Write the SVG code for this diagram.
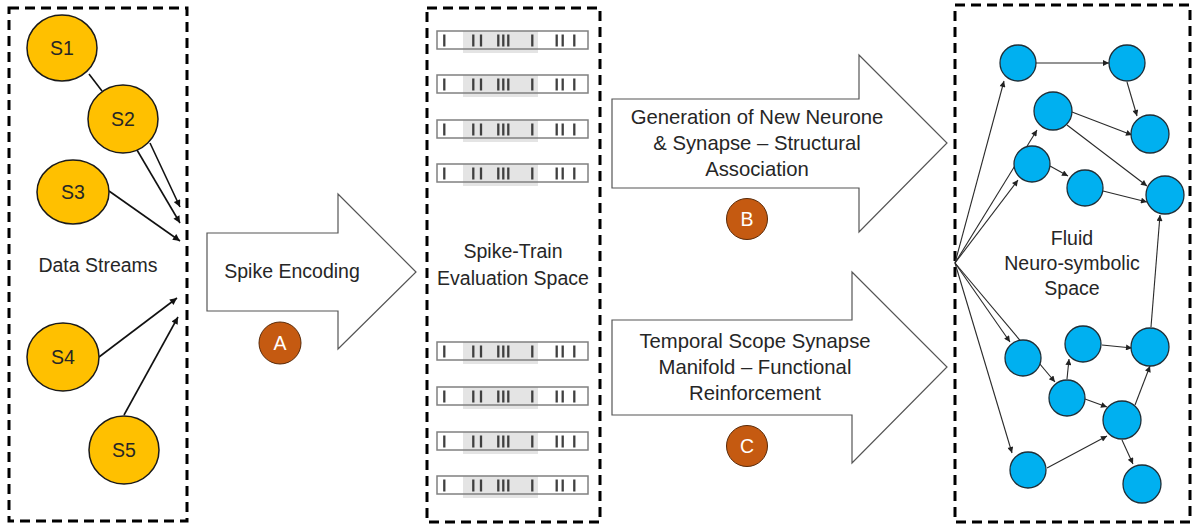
<svg xmlns="http://www.w3.org/2000/svg" xmlns:xlink="http://www.w3.org/1999/xlink" width="1196" height="527" viewBox="0 0 1196 527">
<style>
.frame{fill:none;stroke:#000;stroke-width:3;stroke-dasharray:10 6}
.t{font-family:"Liberation Sans",Arial,sans-serif;font-size:19.5px;fill:#262626;text-anchor:middle}
.tb{font-size:20.3px}
.tw{font-family:"Liberation Sans",Arial,sans-serif;font-size:19.5px;fill:#fff;text-anchor:middle}
.yel{fill:#FFC000;stroke:#1a1a1a;stroke-width:1.5}
.blue{fill:#00B0F0;stroke:#1f2f38;stroke-width:1.3}
.badge{fill:#C55A11;stroke:#5a2a08;stroke-width:1}
.big{fill:#fff;stroke:#555;stroke-width:1.2}
.la{stroke:#111;stroke-width:1.6;fill:none}
.ra{stroke:#2a2a2a;stroke-width:1.1;fill:none}
.spk{stroke:#404040;stroke-width:2.3}
</style>
<defs>
<marker id="ahL" viewBox="0 0 10 10" refX="10" refY="5" markerWidth="10" markerHeight="7" markerUnits="userSpaceOnUse" orient="auto"><path d="M0,0 L10,5 L0,10 z" fill="#111"/></marker>
<marker id="ahR" viewBox="0 0 10 10" refX="10" refY="5" markerWidth="9" markerHeight="6" markerUnits="userSpaceOnUse" orient="auto"><path d="M0,0 L10,5 L0,10 z" fill="#222"/></marker>
<g id="train">
<rect x="26" y="0" width="75" height="22" fill="#e4e4e4"/>
<rect x="0" y="0" width="151" height="18" fill="none" stroke="#808080" stroke-width="1.5"/>
<path class="spk" d="M7.3,3.5V15.5M36.3,3.5V15.5M44,3.5V15.5M61.3,3.5V15.5M66.3,3.5V15.5M71.3,3.5V15.5M95.3,3.5V15.5M119.7,3.5V15.5M125.7,3.5V15.5M137.3,3.5V15.5"/>
</g>
</defs>
<rect width="1196" height="527" fill="#fff"/>

<!-- Panel frames -->
<rect class="frame" x="9" y="8" width="178" height="513"/>
<rect class="frame" x="427" y="8" width="173" height="514"/>
<rect class="frame" x="955" y="5" width="235" height="517"/>

<!-- Connectors -->
<g id="connectors">
<line class="la" x1="89" y1="74" x2="102" y2="91"/>
<line class="la" x1="150" y1="143" x2="180" y2="207" marker-end="url(#ahL)"/>
<line class="la" x1="137" y1="150" x2="180" y2="223" marker-end="url(#ahL)"/>
<line class="la" x1="109" y1="191" x2="180" y2="241" marker-end="url(#ahL)"/>
<line class="la" x1="99" y1="357" x2="177" y2="298" marker-end="url(#ahL)"/>
<line class="la" x1="124" y1="415" x2="178" y2="317" marker-end="url(#ahL)"/>

<line class="ra" x1="955" y1="263" x2="1004" y2="81" marker-end="url(#ahR)"/>
<line class="ra" x1="955" y1="263" x2="1037" y2="130" marker-end="url(#ahR)"/>
<line class="ra" x1="955" y1="263" x2="1018" y2="180" marker-end="url(#ahR)"/>
<line class="ra" x1="955" y1="263" x2="1010" y2="342" marker-end="url(#ahR)"/>
<line class="ra" x1="955" y1="263" x2="1055" y2="382" marker-end="url(#ahR)"/>
<line class="ra" x1="955" y1="263" x2="1012" y2="453" marker-end="url(#ahR)"/>
<line class="ra" x1="1036" y1="63" x2="1109" y2="63" marker-end="url(#ahR)"/>
<line class="ra" x1="1127" y1="82" x2="1137" y2="116" marker-end="url(#ahR)"/>
<line class="ra" x1="1072" y1="112" x2="1132" y2="135" marker-end="url(#ahR)"/>
<line class="ra" x1="1067" y1="125" x2="1147" y2="186" marker-end="url(#ahR)"/>
<line class="ra" x1="1050" y1="166" x2="1068" y2="176" marker-end="url(#ahR)"/>
<line class="ra" x1="1103" y1="191" x2="1147" y2="202" marker-end="url(#ahR)"/>
<line class="ra" x1="1151" y1="327" x2="1160" y2="215" marker-end="url(#ahR)"/>
<line class="ra" x1="1067" y1="379" x2="1069" y2="359" marker-end="url(#ahR)"/>
<line class="ra" x1="1102" y1="345" x2="1132" y2="348" marker-end="url(#ahR)"/>
<line class="ra" x1="1085" y1="399" x2="1107" y2="407" marker-end="url(#ahR)"/>
<line class="ra" x1="1135" y1="405" x2="1150" y2="366" marker-end="url(#ahR)"/>
<line class="ra" x1="1047" y1="468" x2="1107" y2="436" marker-end="url(#ahR)"/>
<line class="ra" x1="1122" y1="440" x2="1133" y2="464" marker-end="url(#ahR)"/>
</g>

<!-- Data stream nodes -->
<g id="S1"><ellipse class="yel" cx="62" cy="48" rx="35" ry="33"/><text class="t" x="62" y="55">S1</text></g>
<g id="S2"><ellipse class="yel" cx="123" cy="119" rx="35" ry="34"/><text class="t" x="123" y="126">S2</text></g>
<g id="S3"><ellipse class="yel" cx="73" cy="192" rx="36" ry="32"/><text class="t" x="73" y="199">S3</text></g>
<g id="S4"><ellipse class="yel" cx="63" cy="357" rx="36" ry="34"/><text class="t" x="63" y="364">S4</text></g>
<g id="S5"><ellipse class="yel" cx="124" cy="450" rx="35" ry="34"/><text class="t" x="124" y="457">S5</text></g>
<g id="data-streams-label"><text class="t" x="98" y="272">Data Streams</text></g>

<!-- Spike Encoding arrow -->
<g id="spike-encoding">
<polygon class="big" points="207,233 338,233 338,194 416,272 338,349 338,311 207,311"/>
<text class="t" x="292" y="278">Spike Encoding</text>
</g>
<g id="badge-A"><circle class="badge" cx="280" cy="343" r="21"/><text class="tw" x="280" y="350">A</text></g>

<!-- Spike trains -->
<g id="spike-trains">
<use xlink:href="#train" x="437" y="31"/>
<use xlink:href="#train" x="437" y="75"/>
<use xlink:href="#train" x="437" y="120"/>
<use xlink:href="#train" x="437" y="164"/>
<use xlink:href="#train" x="437" y="342"/>
<use xlink:href="#train" x="437" y="387"/>
<use xlink:href="#train" x="437" y="432"/>
<use xlink:href="#train" x="437" y="476"/>
</g>
<g id="evaluation-label">
<text class="t" x="513" y="258">Spike-Train</text>
<text class="t" x="513" y="285">Evaluation Space</text>
</g>

<!-- Structural association arrow -->
<g id="structural">
<polygon class="big" points="612,99 859,99 859,55 947,143 859,232 859,188 612,188"/>
<text class="t tb" x="757" y="124">Generation of New Neurone</text>
<text class="t tb" x="757" y="150">&amp; Synapse – Structural</text>
<text class="t tb" x="757" y="176">Association</text>
</g>
<g id="badge-B"><circle class="badge" cx="747" cy="219" r="20.5"/><text class="tw" x="747" y="226">B</text></g>

<!-- Functional reinforcement arrow -->
<g id="functional">
<polygon class="big" points="612,320 852,320 852,272 947,367 852,463 852,415 612,415"/>
<text class="t tb" x="755" y="348">Temporal Scope Synapse</text>
<text class="t tb" x="755" y="374">Manifold – Functional</text>
<text class="t tb" x="755" y="400">Reinforcement</text>
</g>
<g id="badge-C"><circle class="badge" cx="747" cy="446" r="20.5"/><text class="tw" x="747" y="453">C</text></g>

<!-- Neuro-symbolic nodes -->
<g id="N1"><circle class="blue" cx="1018" cy="63" r="18"/></g>
<g id="N2"><circle class="blue" cx="1127" cy="63" r="18"/></g>
<g id="N3"><circle class="blue" cx="1053" cy="111" r="19"/></g>
<g id="N4"><circle class="blue" cx="1150" cy="134" r="19"/></g>
<g id="N5"><circle class="blue" cx="1032" cy="164" r="18"/></g>
<g id="N6"><circle class="blue" cx="1085" cy="188" r="18"/></g>
<g id="N7"><circle class="blue" cx="1165" cy="195" r="19"/></g>
<g id="N8"><circle class="blue" cx="1023" cy="358" r="18"/></g>
<g id="N9"><circle class="blue" cx="1083" cy="344" r="18"/></g>
<g id="N10"><circle class="blue" cx="1150" cy="347" r="19"/></g>
<g id="N11"><circle class="blue" cx="1067" cy="398" r="18"/></g>
<g id="N12"><circle class="blue" cx="1122" cy="420" r="19"/></g>
<g id="N13"><circle class="blue" cx="1028" cy="470" r="18"/></g>
<g id="N14"><circle class="blue" cx="1142" cy="484" r="19"/></g>
<g id="fluid-label">
<text class="t" x="1072" y="245">Fluid</text>
<text class="t" x="1072" y="270">Neuro-symbolic</text>
<text class="t" x="1072" y="295">Space</text>
</g>
</svg>
